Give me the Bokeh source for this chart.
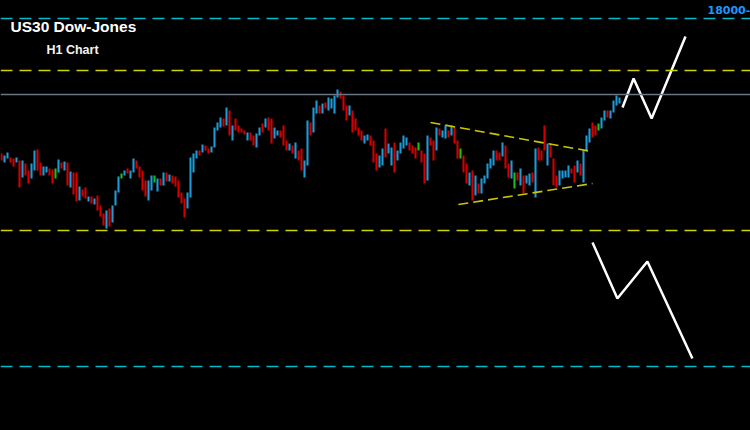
from bokeh.plotting import figure
from bokeh.models import ColumnDataSource, Range1d, Span, Label
from bokeh.embed import file_html
from bokeh.resources import INLINE

# ---- candle data (H1 bars, oldest first) ----
opens = [17856, 17847, 17851, 17852, 17851, 17847, 17849, 17832, 17846, 17839,
         17831, 17839, 17860, 17847, 17834, 17837, 17841, 17840, 17831, 17837,
         17847, 17839, 17847, 17822, 17837, 17837, 17809, 17820, 17822, 17808,
         17813, 17805, 17814, 17804, 17796, 17781, 17801, 17787, 17804, 17817,
         17831, 17834, 17841, 17831, 17837, 17849, 17843, 17839, 17829, 17809,
         17819, 17827, 17818, 17831, 17824, 17837, 17828, 17834, 17833, 17829,
         17817, 17811, 17801, 17812, 17837, 17851, 17859, 17857, 17864, 17861,
         17857, 17862, 17879, 17882, 17891, 17884, 17899, 17869, 17891, 17884,
         17881, 17879, 17869, 17877, 17874, 17862, 17874, 17886, 17882, 17892,
         17891, 17871, 17874, 17879, 17884, 17869, 17859, 17864, 17851, 17859,
         17861, 17832, 17844, 17887, 17877, 17896, 17904, 17896, 17907, 17899,
         17901, 17896, 17912, 17918, 17914, 17904, 17894, 17899, 17891, 17882,
         17879, 17866, 17869, 17874, 17869, 17856, 17842, 17844, 17881, 17856,
         17844, 17867, 17849, 17856, 17861, 17864, 17867, 17864, 17862, 17859,
         17859, 17856, 17829, 17872, 17869, 17859, 17881, 17872, 17871, 17879,
         17874, 17882, 17869, 17851, 17854, 17846, 17824, 17839, 17814, 17826,
         17816, 17826, 17831, 17841, 17844, 17859, 17857, 17853, 17864, 17846,
         17831, 17821, 17837, 17824, 17834, 17826, 17824, 17837, 17812, 17862,
         17859, 17884, 17844, 17866, 17851, 17834, 17824, 17831, 17832, 17832,
         17841, 17844, 17837, 17846, 17827, 17859, 17867, 17887, 17884, 17879,
         17881, 17889, 17899, 17891, 17897, 17904, 17906]
closes = [17849, 17854, 17857, 17847, 17843, 17852, 17822, 17849, 17834, 17826,
          17846, 17859, 17839, 17834, 17843, 17843, 17834, 17826, 17841, 17850,
          17841, 17848, 17824, 17838, 17815, 17808, 17823, 17813, 17811, 17813,
          17806, 17811, 17799, 17793, 17784, 17799, 17783, 17804, 17819, 17833,
          17836, 17839, 17836, 17839, 17851, 17841, 17832, 17819, 17813, 17829,
          17834, 17834, 17831, 17824, 17837, 17828, 17835, 17826, 17823, 17812,
          17806, 17792, 17817, 17852, 17856, 17859, 17854, 17865, 17859, 17856,
          17863, 17882, 17887, 17892, 17883, 17902, 17874, 17884, 17879, 17877,
          17877, 17875, 17877, 17869, 17864, 17876, 17882, 17877, 17891, 17879,
          17866, 17882, 17879, 17872, 17864, 17859, 17866, 17856, 17867, 17849,
          17839, 17849, 17889, 17874, 17902, 17909, 17896, 17906, 17901, 17912,
          17911, 17914, 17920, 17911, 17899, 17889, 17904, 17877, 17879, 17874,
          17869, 17874, 17875, 17864, 17847, 17839, 17854, 17861, 17852, 17866,
          17862, 17837, 17859, 17867, 17874, 17872, 17859, 17856, 17851, 17867,
          17847, 17826, 17874, 17864, 17849, 17882, 17874, 17879, 17884, 17872,
          17884, 17866, 17851, 17861, 17837, 17826, 17837, 17809, 17834, 17816,
          17831, 17834, 17846, 17851, 17859, 17849, 17849, 17867, 17841, 17832,
          17849, 17837, 17829, 17841, 17816, 17834, 17836, 17827, 17861, 17849,
          17849, 17859, 17866, 17852, 17824, 17822, 17839, 17839, 17839, 17844,
          17836, 17827, 17849, 17834, 17859, 17874, 17881, 17872, 17874, 17886,
          17892, 17899, 17892, 17899, 17909, 17914, 17912]
green_bars = [18, 40, 51, 139, 153, 171, 199]

# ---- horizontal levels ----
level_cyan = [17991, 17643]
level_yellow = [17939, 17779]
level_gray = 17915

# ---- triangle trendlines (bar index, price) ----
tri_upper_x = [143, 196.7]
tri_upper_y = [17887, 17858]
tri_lower_x = [152.3, 197]
tri_lower_y = [17805, 17826]

# ---- scenario zigzags ----
up_x = [207, 210.7, 216.7, 228]
up_y = [17902, 17931, 17891, 17973]
dn_x = [197, 205.3, 215.3, 230.3]
dn_y = [17767, 17711, 17748, 17651]

price_label = "18000"
title_text = "US30 Dow-Jones"
sub_text = "H1 Chart"

RED = "#d40000"
BLUE = "#1e9ad6"
GREEN = "#18c018"

n = len(closes)
idx = list(range(n))
colors = []
for i in idx:
    if i in green_bars:
        colors.append(GREEN)
    elif closes[i] < opens[i]:
        colors.append(RED)
    else:
        colors.append(BLUE)

src = ColumnDataSource(dict(
    x=idx,
    top=[max(o, c) for o, c in zip(opens, closes)],
    bottom=[min(o, c) for o, c in zip(opens, closes)],
    color=colors,
))

W, H = 750, 430
p = figure(width=W, height=H, output_backend="svg", toolbar_location=None,
           x_range=Range1d(-0.333, 249.667), y_range=Range1d(17579, 18009),
           min_border=0)
p.background_fill_color = "#000000"
p.border_fill_color = "#000000"
p.outline_line_color = None
p.xaxis.visible = False
p.yaxis.visible = False
p.xgrid.visible = False
p.ygrid.visible = False

for lv in level_cyan:
    p.add_layout(Span(location=lv, dimension="width", line_color="#00bcc8",
                      line_width=1.5, line_dash="12 7"))
for lv in level_yellow:
    p.add_layout(Span(location=lv, dimension="width", line_color="#d2d200",
                      line_width=1.5, line_dash="12 7"))
p.add_layout(Span(location=level_gray, dimension="width", line_color="#6b7682",
                  line_width=1.5))

p.vbar(x="x", top="top", bottom="bottom", width=0.7, color="color",
       line_width=0, source=src)

p.line(tri_upper_x, tri_upper_y, line_color="#c8c800", line_width=1.6, line_dash="10 5")
p.line(tri_lower_x, tri_lower_y, line_color="#c8c800", line_width=1.6, line_dash="10 5")

p.line(up_x, up_y, line_color="#ffffff", line_width=2.5)
p.line(dn_x, dn_y, line_color="#ffffff", line_width=2.5)

p.add_layout(Label(x=10, y=404, x_units="screen", y_units="screen", text=title_text,
                   text_color="#ffffff", text_font="Liberation Sans",
                   text_font_size="15.5px", text_font_style="bold",
                   text_baseline="alphabetic"))
p.add_layout(Label(x=46, y=381, x_units="screen", y_units="screen", text=sub_text,
                   text_color="#f4f4f4", text_font="Liberation Sans",
                   text_font_size="12.5px", text_font_style="bold",
                   text_baseline="alphabetic"))
p.add_layout(Label(x=707, y=421, x_units="screen", y_units="screen",
                   text=price_label + "-",
                   text_color="#1e96ff", text_font="DejaVu Sans",
                   text_font_size="11px", text_font_style="bold",
                   text_baseline="alphabetic"))

html = file_html(p, INLINE)
html = html.replace("<head>", "<head><style>html,body{background:#000000;}</style>", 1)
open("out.html", "w").write(html)
